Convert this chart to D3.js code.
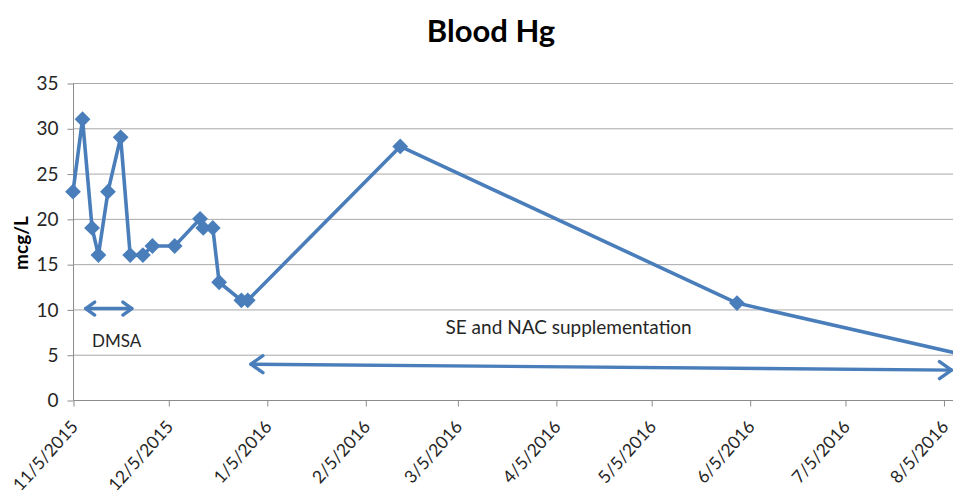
<!DOCTYPE html>
<html>
<head>
<meta charset="utf-8">
<script src="https://cdn.jsdelivr.net/npm/d3@7"></script>
<style>
  html, body { margin: 0; padding: 0; background: #fff; }
  svg { display: block; }
  text { font-family: Lato, "Open Sans", sans-serif; }
</style>
</head>
<body>
<svg id="chart" width="953" height="500"></svg>
<script>
// ---- data ----
const dates = ["2015-11-05","2015-11-08","2015-11-11","2015-11-13","2015-11-16","2015-11-20",
  "2015-11-23","2015-11-27","2015-11-30","2015-12-07","2015-12-15","2015-12-16","2015-12-19",
  "2015-12-21","2015-12-28","2015-12-30","2016-02-16","2016-06-01","2016-08-15"];
const values = [23, 31, 19, 16, 23, 29, 16, 16, 17, 17, 20, 19, 19, 13, 11, 11, 28, 10.7, 4.7];
const xTickLabels = ["11/5/2015","12/5/2015","1/5/2016","2/5/2016","3/5/2016","4/5/2016",
  "5/5/2016","6/5/2016","7/5/2016","8/5/2016"];
const yTicks = [0, 5, 10, 15, 20, 25, 30, 35];
const xDomain = ["2015-11-05", "2016-08-08"];
const yDomain = [0, 35];
// annotation arrows: [startDate, startValue, endDate, endValue]
const arrowDMSA = ["2015-11-09", 10.1, "2015-11-24", 10.1];
const arrowSE = ["2015-12-31", 3.95, "2016-08-08", 3.3];
const labelDMSA = ["DMSA", "2015-11-11", 5.85];
const labelSE = ["SE and NAC supplementation", "2016-04-09", 7.3];
const title = "Blood Hg";
const yTitle = "mcg/L";

// ---- setup ----
const parse = d3.utcParse("%Y-%m-%d");
const svg = d3.select("#chart");
const W = 953, H = 500;
const m = { left: 73, right: 0, top: 83, bottom: 100 };
const x = d3.scaleUtc().domain(xDomain.map(parse)).range([m.left, W - m.right]);
const y = d3.scaleLinear().domain(yDomain).range([H - m.bottom, m.top]);
const blue = "#4a7ebb";
const gridColor = "#a8a8a8";
const axisColor = "#8c8c8c";
const textColor = "#262626";

// title
svg.append("text").attr("x", 491).attr("y", 42).attr("text-anchor", "middle")
  .attr("font-size", 31).attr("font-weight", "bold").attr("fill", "#000").text(title);

// y title
svg.append("text").attr("transform", `translate(28,${243}) rotate(-90)`)
  .attr("text-anchor", "middle").attr("font-size", 19).attr("font-weight", "bold")
  .attr("fill", "#000").text(yTitle);

// gridlines
svg.append("g").selectAll("line").data(yTicks.filter(d => d > 0)).join("line")
  .attr("x1", m.left).attr("x2", W - m.right)
  .attr("y1", d => y(d) + 0.5).attr("y2", d => y(d) + 0.5)
  .attr("stroke", gridColor).attr("stroke-width", 1);

// y axis
const yAxis = d3.axisLeft(y).tickValues(yTicks).tickSize(6).tickPadding(9).tickFormat(d3.format("d"));
const gy = svg.append("g").attr("transform", `translate(${m.left + 0.5},0.5)`).call(yAxis);
gy.select(".domain").attr("stroke", axisColor).attr("d", `M0,${y(0)}V${y(35)}`);
gy.selectAll(".tick line").attr("stroke", axisColor);
gy.selectAll(".tick text").attr("font-size", 19).attr("fill", textColor)
  .attr("font-family", "Lato, sans-serif");

// x axis
const tickDates = xTickLabels.map(s => { const [mo, da, yr] = s.split("/").map(Number); return new Date(Date.UTC(yr, mo - 1, da)); });
const xAxis = d3.axisBottom(x).tickValues(tickDates).tickSize(6).tickFormat((d, i) => xTickLabels[i]);
const gx = svg.append("g").attr("transform", `translate(0.5,${y(0) + 0.5})`).call(xAxis);
gx.select(".domain").attr("stroke", axisColor).attr("d", `M${m.left},0H${W}`);
gx.selectAll(".tick line").attr("stroke", axisColor);
gx.selectAll(".tick text").attr("font-size", 17.5).attr("fill", textColor)
  .attr("font-family", "Lato, sans-serif")
  .attr("text-anchor", "end").attr("dy", 0)
  .attr("transform", "translate(5,27) rotate(-48)").attr("y", 0).attr("x", 0);

// clip
svg.append("clipPath").attr("id", "plotclip").append("rect")
  .attr("x", 0).attr("y", 0).attr("width", W).attr("height", H);

const pts = dates.map((d, i) => ({ d: parse(d), v: values[i] }));
const line = d3.line().x(p => x(p.d)).y(p => y(p.v));
const plot = svg.append("g").attr("clip-path", "url(#plotclip)");
plot.append("path").datum(pts).attr("d", line).attr("fill", "none")
  .attr("stroke", blue).attr("stroke-width", 3.6).attr("stroke-linejoin", "round");
const diamond = d3.symbol().type(d3.symbolSquare).size(125);
plot.selectAll("path.pt").data(pts).join("path").attr("class", "pt")
  .attr("d", diamond)
  .attr("transform", p => `translate(${x(p.d)},${y(p.v)}) rotate(45)`)
  .attr("fill", blue);

// arrows
function drawArrow(a, headLen, headHalf, sw) {
  const x1 = x(parse(a[0])), y1 = y(a[1]), x2 = x(parse(a[2])), y2 = y(a[3]);
  const g = svg.append("g").attr("fill", "none").attr("stroke", blue)
    .attr("stroke-width", sw).attr("stroke-linecap", "round").attr("stroke-linejoin", "round");
  g.append("line").attr("x1", x1).attr("y1", y1).attr("x2", x2 - 1.5).attr("y2", y2);
  g.append("path").attr("d", `M${x1 + headLen},${y1 - headHalf}L${x1},${y1}L${x1 + headLen},${y1 + headHalf}`);
  g.append("path").attr("d", `M${x2 - 1.5 - headLen},${y2 - headHalf}L${x2 - 1.5},${y2}L${x2 - 1.5 - headLen},${y2 + headHalf}`);
}
drawArrow(arrowDMSA, 9, 6.5, 3.4);
drawArrow(arrowSE, 12, 8.5, 3.4);

// labels
svg.append("text").attr("x", x(parse(labelDMSA[1]))).attr("y", y(labelDMSA[2]))
  .attr("font-size", 17).attr("fill", textColor).text(labelDMSA[0]);
svg.append("text").attr("x", x(parse(labelSE[1]))).attr("y", y(labelSE[2]))
  .attr("text-anchor", "middle").attr("font-size", 19).attr("fill", textColor).text(labelSE[0]);
</script>
</body>
</html>
